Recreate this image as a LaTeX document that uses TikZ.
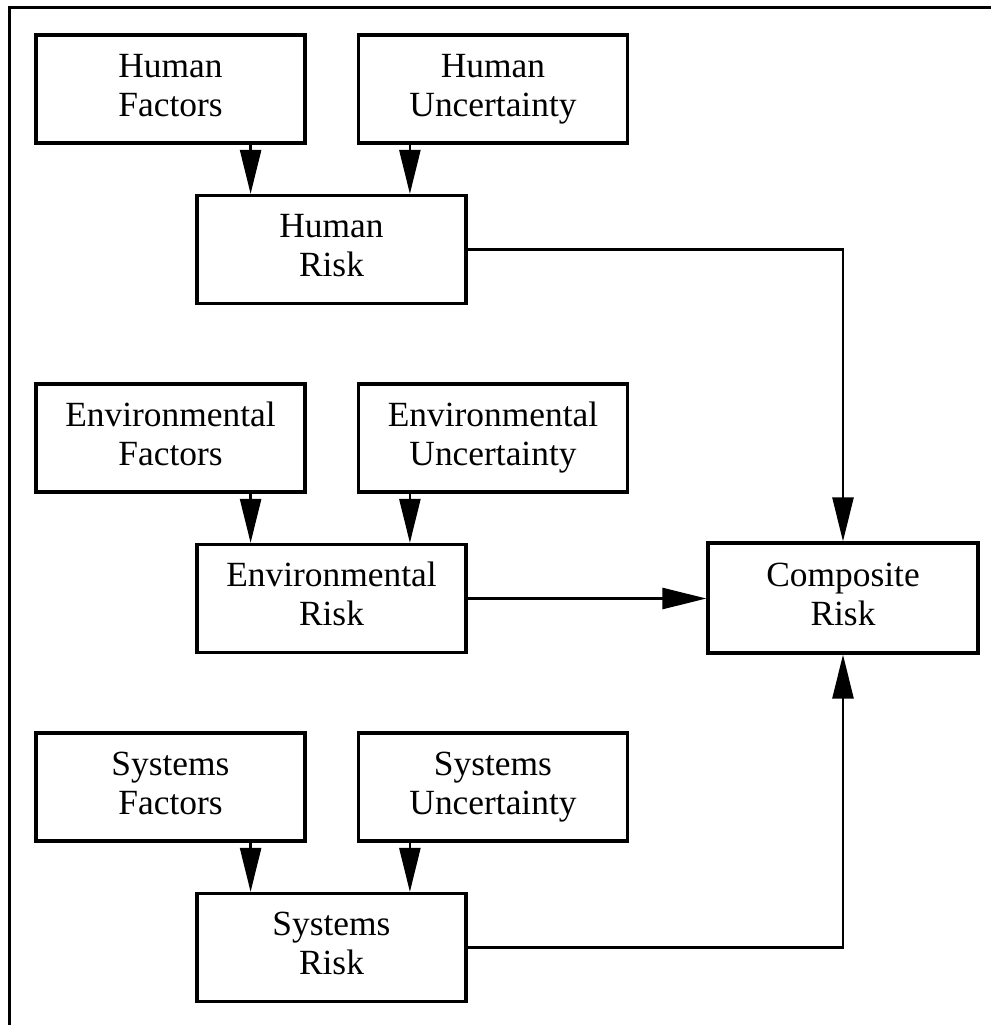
\documentclass[tikz,border=0pt]{standalone}
\usepackage{fontspec}
\setmainfont{Liberation Serif}
\usetikzlibrary{arrows.meta}
\newcommand{\twolines}[2]{\strut#1\\\strut#2}
\begin{document}
\begin{tikzpicture}[x=0.5pt,y=-0.5pt,
  box/.style={draw,line width=1.6pt,rectangle,minimum width=134.5pt,minimum height=54pt,
    inner sep=0pt,align=center,font=\fontsize{17.7}{19.5}\selectfont},
  conn/.style={line width=1.25pt},
  arr/.style={conn,-{Triangle[length=22pt,width=10.5pt]}}]
\useasboundingbox (0,0) rectangle (991,1025);
\draw[line width=1.5pt] (9,1025) -- (9,7) -- (991,7);
% Human row
\node[box] (hf) at (170.5,89) {\twolines{Human}{Factors}};
\node[box] (hu) at (493,89) {\twolines{Human}{Uncertainty}};
\node[box] (hr) at (331.5,249.5) {\twolines{Human}{Risk}};
% Environmental row
\node[box] (ef) at (170.5,438) {\twolines{Environmental}{Factors}};
\node[box] (eu) at (493,438) {\twolines{Environmental}{Uncertainty}};
\node[box] (er) at (331.5,598.5) {\twolines{Environmental}{Risk}};
% Systems row
\node[box] (sf) at (170.5,787) {\twolines{Systems}{Factors}};
\node[box] (su) at (493,787) {\twolines{Systems}{Uncertainty}};
\node[box] (sr) at (331.5,947.5) {\twolines{Systems}{Risk}};
% Composite
\node[box,minimum width=135pt,minimum height=55pt] (cr) at (843,598) {\twolines{Composite}{Risk}};
% arrows factors/uncertainty -> risk
\foreach \f/\u/\r in {hf/hu/hr,ef/eu/er,sf/su/sr}{
  \draw[arr] (\f.south east) ++(-56,0) coordinate (a\f) -- (a\f |- \r.north);
  \draw[arr] (\u.south west) ++(53,0) coordinate (a\u) -- (a\u |- \r.north);
}
% risk -> composite
\draw[arr] (hr.east) -| (cr.north);
\draw[arr] (er.east) -- (er.east -| cr.west);
\draw[arr] (sr.east) -| (cr.south);
\end{tikzpicture}
\end{document}
